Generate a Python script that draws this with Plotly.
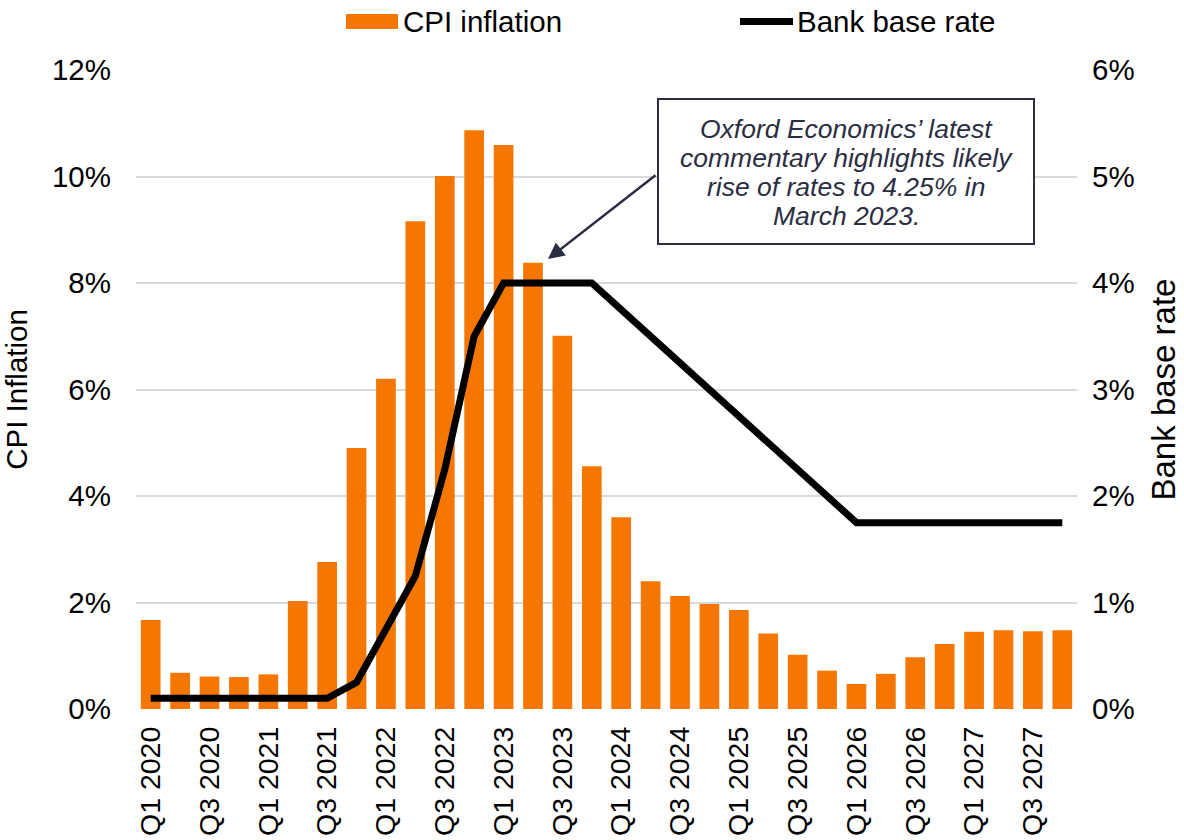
import plotly.graph_objects as go

# Quarterly periods, Q1 2020 to Q4 2027
quarters = [f"Q{q} {y}" for y in range(2020, 2028) for q in range(1, 5)]

# CPI inflation, % (left axis)
cpi_inflation = [
    1.67, 0.68, 0.61, 0.60,
    0.65, 2.03, 2.76, 4.90,
    6.20, 9.16, 10.01, 10.87,
    10.59, 8.38, 7.01, 4.56,
    3.60, 2.40, 2.12, 1.97,
    1.86, 1.42, 1.02, 0.72,
    0.47, 0.66, 0.97, 1.22,
    1.45, 1.48, 1.46, 1.48,
]

# Bank base rate, % (right axis)
bank_base_rate = [
    0.10, 0.10, 0.10, 0.10,
    0.10, 0.10, 0.10, 0.25,
    0.75, 1.25, 2.25, 3.50,
    4.00, 4.00, 4.00, 4.00,
    3.75, 3.50, 3.25, 3.00,
    2.75, 2.50, 2.25, 2.00,
    1.75, 1.75, 1.75, 1.75,
    1.75, 1.75, 1.75, 1.75,
]

# Only Q1 and Q3 periods are labelled on the x axis
x_tick_labels = [q for q in quarters if q.startswith(("Q1", "Q3"))]

left_ticks = [0, 2, 4, 6, 8, 10, 12]
right_ticks = [0, 1, 2, 3, 4, 5, 6]

note_lines = [
    "Oxford Economics\u2019 latest",
    "commentary highlights likely",
    "rise of rates to 4.25% in",
    "March 2023.",
]

ORANGE = "#F57600"
NAVY = "#2B2D42"
FONT = "Liberation Sans, Arial, sans-serif"
FS = 29.5

# plot-area geometry in pixels (for placing paper-referenced decorations)
W, H = 1184, 840
L, R, T, B = 136, 107, 70, 131
PW, PH = W - L - R, H - T - B


def px(x):
    return (x - L) / PW


def py(y):
    return (H - B - y) / PH


fig = go.Figure()

fig.add_trace(go.Bar(
    x=quarters, y=cpi_inflation, name="CPI inflation",
    marker=dict(color=ORANGE, line=dict(width=0)),
    showlegend=False,
))

fig.add_trace(go.Scatter(
    x=quarters, y=bank_base_rate, name="Bank base rate", yaxis="y2",
    mode="lines", line=dict(color="black", width=7),
    showlegend=False,
))

fig.update_layout(
    width=W, height=H,
    margin=dict(l=L, r=R, t=T, b=B),
    plot_bgcolor="white", paper_bgcolor="white",
    bargap=0.33,
    font=dict(family=FONT, size=FS, color="black"),
    xaxis=dict(
        type="category", range=[-0.5, len(quarters) - 0.5],
        tickmode="array", tickvals=x_tick_labels, ticktext=x_tick_labels,
        tickangle=-90, showgrid=False, zeroline=False, showline=False,
        ticks="", ticklabelstandoff=11, automargin=False,
        tickfont=dict(family=FONT, size=28.5, color="black"),
    ),
    yaxis=dict(
        range=[0, 12], tickvals=left_ticks, ticktext=[f"{v}%" for v in left_ticks],
        showgrid=True, gridcolor="#D9D9D9", gridwidth=1.5,
        zeroline=False, showline=False, ticks="", ticklabelstandoff=24,
        automargin=False,
        tickfont=dict(family=FONT, size=FS, color="black"),
        title=dict(text="CPI Inflation", standoff=17,
                   font=dict(family=FONT, size=FS, color="black")),
    ),
    yaxis2=dict(
        range=[0, 6], tickvals=right_ticks, ticktext=[f"{v}%" for v in right_ticks],
        overlaying="y", side="right", showgrid=False, zeroline=False,
        showline=False, ticks="", ticklabelstandoff=14, automargin=False,
        tickfont=dict(family=FONT, size=FS, color="black"),
        title=dict(text="Bank base rate", standoff=18,
                   font=dict(family=FONT, size=33, color="black")),
    ),
)

# Legend drawn across the top
fig.add_shape(type="rect", xref="paper", yref="paper",
              x0=px(346), x1=px(398), y0=py(29), y1=py(14),
              fillcolor=ORANGE, line=dict(width=0))
fig.add_shape(type="line", xref="paper", yref="paper",
              x0=px(740), x1=px(793), y0=py(21.5), y1=py(21.5),
              line=dict(color="black", width=7))
fig.add_annotation(text="CPI inflation", xref="paper", yref="paper",
                   x=px(401), y=py(21.5), xanchor="left", yanchor="middle",
                   showarrow=False, font=dict(family=FONT, size=FS, color="black"))
fig.add_annotation(text="Bank base rate", xref="paper", yref="paper",
                   x=px(795), y=py(21.5), xanchor="left", yanchor="middle",
                   showarrow=False, font=dict(family=FONT, size=FS, color="black"))

# Commentary box with arrow pointing at the Q2 2023 bar
fig.add_shape(type="rect", xref="paper", yref="paper",
              x0=px(658), x1=px(1034), y0=py(244), y1=py(99),
              fillcolor="white", line=dict(color=NAVY, width=2))
for i, line in enumerate(note_lines):
    fig.add_annotation(text=f"<i>{line}</i>", xref="paper", yref="paper",
                       x=px(846), y=py(129 + 29 * i), xanchor="center", yanchor="middle",
                       showarrow=False, font=dict(family=FONT, size=26.5, color=NAVY))

fig.add_annotation(text="", xref="paper", yref="paper",
                   x=px(548), y=py(259), ax=109, ay=-85,
                   showarrow=True, arrowhead=2, arrowsize=1.3, arrowwidth=2.5,
                   arrowcolor=NAVY, standoff=0, startstandoff=0)

fig.write_html("out.html")
